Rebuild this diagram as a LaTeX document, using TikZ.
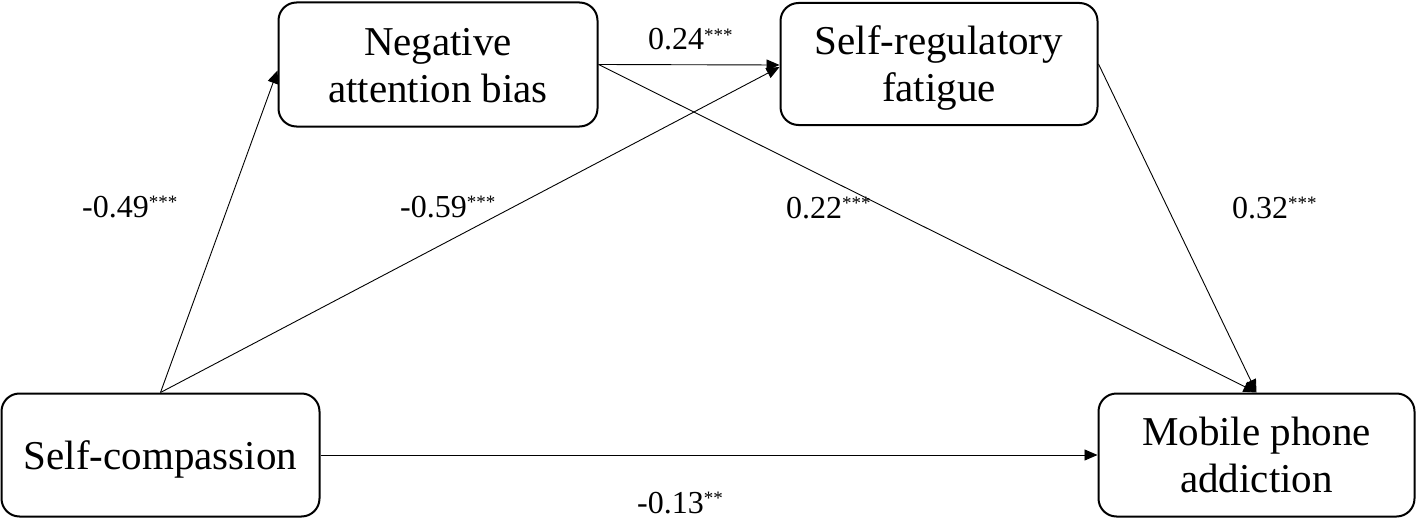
\documentclass[tikz,border=0pt]{standalone}
\usepackage{fontspec}
\setmainfont{Liberation Serif}
\usetikzlibrary{arrows.meta}
\newcommand{\stars}[1]{\raisebox{9pt}{\fontsize{19}{19}\selectfont #1}}
\newcommand{\boxtext}[1]{\raisebox{-5pt}[\height][\depth]{\begin{tabular}{@{}c@{}}#1\end{tabular}}}
\tikzset{
  box/.style={draw=black, line width=2pt, rounded corners=18pt, fill=white,
    inner sep=0pt, align=center, font=\fontsize{41}{47}\selectfont},
  conn/.style={line width=0.9pt, -{Triangle[length=13pt,width=11pt]}},
  lab/.style={inner sep=0pt, anchor=base west, font=\fontsize{32}{36}\selectfont}
}
\begin{document}
\begin{tikzpicture}[x=1pt,y=-1pt]
\useasboundingbox (0,0) rectangle (1417,519);
\node[box, minimum width=318pt, minimum height=123pt] (SC) at (160.5,455) {\boxtext{Self-compassion}};
\node[box, minimum width=316pt, minimum height=123pt] (MPA) at (1256.5,455) {\boxtext{Mobile phone\\addiction}};
\node[box, minimum width=319pt, minimum height=124pt] (NAB) at (438,64.5) {\boxtext{Negative\\attention bias}};
\node[box, minimum width=317pt, minimum height=122pt] (SRF) at (939,64) {\boxtext{Self-regulatory\\fatigue}};
\draw[conn] (SC.north) -- ([yshift=-6pt]NAB.west);
\draw[conn] (SC.north) -- ([yshift=-3pt]SRF.west);
\draw[conn] (NAB.east) -- ([yshift=-1pt]SRF.west);
\draw[conn] (NAB.east) -- (MPA.north);
\draw[conn] (SRF.east) -- (MPA.north);
\draw[conn] (SC.east) -- (MPA.west);
\node[lab] (l1) at (82,217) {-0.49\stars{***}};
\node[lab] (l2) at (400,217) {-0.59\stars{***}};
\node[lab] (l3) at (786,218) {0.22\stars{***}};
\node[lab] (l4) at (1232,218) {0.32\stars{***}};
\node[lab] (l5) at (648,50) {0.24\stars{***}};
\node[lab] (l6) at (637,513) {-0.13\stars{**}};
\end{tikzpicture}
\end{document}
